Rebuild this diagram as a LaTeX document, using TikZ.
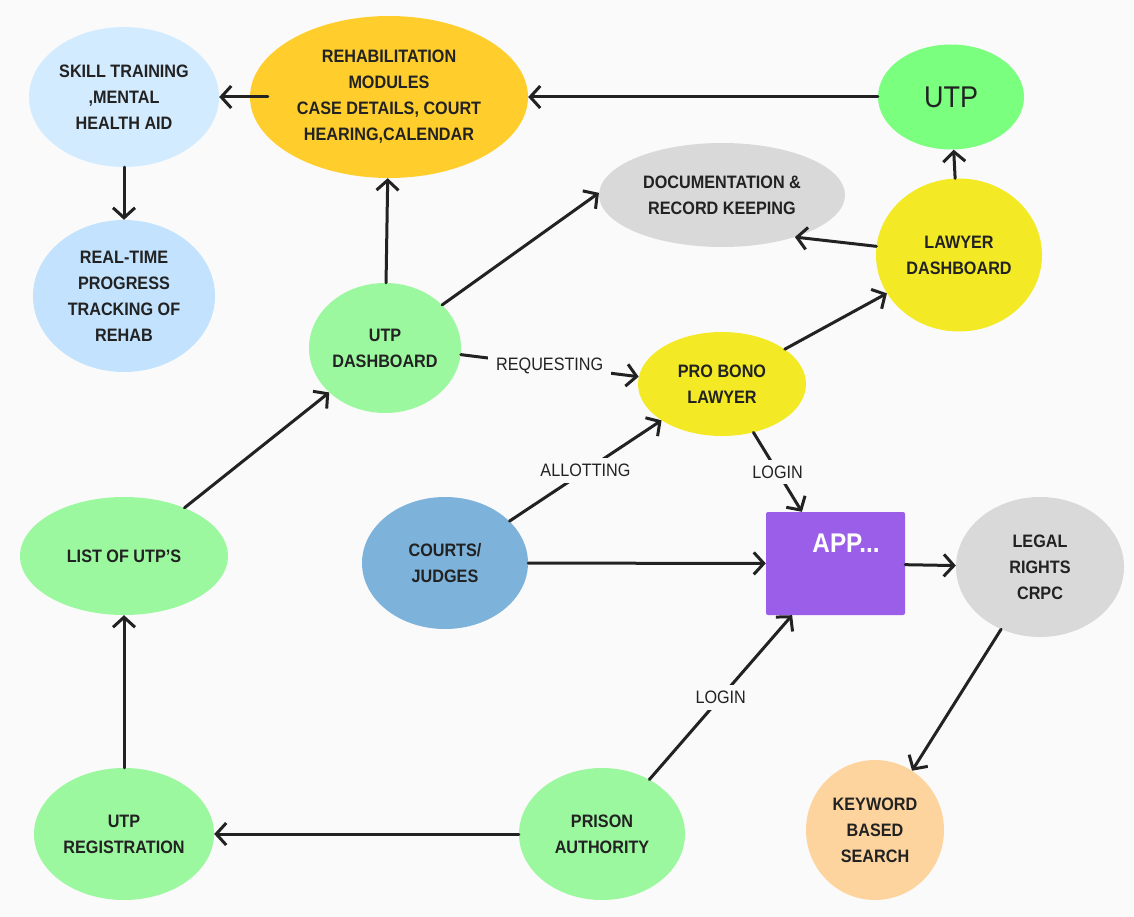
\documentclass[tikz,border=0pt]{standalone}
\usepackage{fontspec}
\setmainfont{Liberation Sans}[FakeStretch=0.9]
\usetikzlibrary{shapes.geometric, arrows.meta}

\definecolor{paper}{HTML}{FAFAFA}
\definecolor{ink}{HTML}{222222}
\definecolor{skyblue}{HTML}{D3EBFE}
\definecolor{paleblue}{HTML}{C2E2FE}
\definecolor{amber}{HTML}{FFCE2D}
\definecolor{neongreen}{HTML}{7AFF7F}
\definecolor{mint}{HTML}{9CF89F}
\definecolor{silver}{HTML}{D9D9D9}
\definecolor{lemon}{HTML}{F3EA25}
\definecolor{steel}{HTML}{7DB3DB}
\definecolor{violet}{HTML}{9B5EE9}
\definecolor{peach}{HTML}{FDD49E}

\begin{document}
\begin{tikzpicture}[
        x=1pt, y=-1pt,
        every node/.style={font=\bfseries\fontsize{18}{26}\selectfont, text=ink, align=center, inner sep=0pt},
        bubble/.style={ellipse},
        link/.style={draw=ink, line width=3pt, line cap=round, line join=round,
            -{Straight Barb[length=10pt, width=22pt]}},
        tag/.style={font=\fontsize{18}{22}\selectfont, fill=paper, inner xsep=8pt, inner ysep=6pt},
    ]
        \fill[paper] (0,0) rectangle (1134,917);
        \useasboundingbox (0,0) rectangle (1134,917);

        % top row
        \node[bubble, fill=skyblue, minimum width=190pt, minimum height=140pt] (skill) at (124,97) {SKILL TRAINING\\,MENTAL\\HEALTH AID};
        \node[bubble, fill=amber, minimum width=278pt, minimum height=162pt] (rehab) at (389,97) {REHABILITATION\\MODULES\\CASE DETAILS, COURT\\HEARING,CALENDAR};
        \node[bubble, fill=neongreen, minimum width=146pt, minimum height=105pt,
            font=\fontsize{30}{34}\selectfont] (utp) at (951,97) {UTP};
        \node[bubble, fill=silver, minimum width=246pt, minimum height=104pt] (docs) at (722,195) {DOCUMENTATION \&\\RECORD KEEPING};
        \node[bubble, fill=lemon, minimum width=166pt, minimum height=153pt] (lawyer) at (959,255) {LAWYER\\DASHBOARD};

        % middle
        \node[bubble, fill=paleblue, minimum width=182pt, minimum height=152pt] (progress) at (124,296) {REAL-TIME\\PROGRESS\\TRACKING OF\\REHAB};
        \node[bubble, fill=mint, minimum width=152pt, minimum height=130pt] (dash) at (385,348) {UTP\\DASHBOARD};
        \node[bubble, fill=lemon, minimum width=168pt, minimum height=104pt] (probono) at (722,384) {PRO BONO\\LAWYER};
        \node[bubble, fill=mint, minimum width=208pt, minimum height=118pt] (list) at (124,556) {LIST OF UTP'S};
        \node[bubble, fill=steel, minimum width=166pt, minimum height=132pt] (courts) at (445,563) {COURTS/\\JUDGES};
        \node[rectangle, fill=violet, rounded corners=2pt, minimum width=139pt, minimum height=103pt,
            label={[font=\bfseries\fontsize{27}{30}\selectfont, text=white, xshift=10.5pt, yshift=20.5pt]center:APP...}] (app) at (835.5,563.5) {};
        \node[bubble, fill=silver, minimum width=168pt, minimum height=140pt] (rights) at (1040,567) {LEGAL\\RIGHTS\\CRPC};

        % bottom row
        \node[bubble, fill=peach, minimum width=138pt, minimum height=140pt] (keyword) at (875,830) {KEYWORD\\BASED\\SEARCH};
        \node[bubble, fill=mint, minimum width=180pt, minimum height=132pt] (reg) at (124,834) {UTP\\REGISTRATION};
        \node[bubble, fill=mint, minimum width=166pt, minimum height=132pt] (prison) at (602,834) {PRISON\\AUTHORITY};

        \draw[link, shorten <=-18pt] (rehab) -- (skill);
        \draw[link] (utp) -- (rehab);
        \draw[link] (skill) -- (progress);
        \draw[link] (dash) -- (rehab);
        \draw[link] (dash.37) -- (docs.179);
        \draw[link] (lawyer.174) -- (docs.-30);
        \draw[link] (lawyer) -- (utp);
        \draw[link] (probono.29) -- (lawyer.208);
        \draw[link] (dash.-5) -- node[tag] {REQUESTING} (probono.175);
        \draw[link] (courts.33) -- node[tag] {ALLOTTING} (probono.211);
        \draw[link] (probono.-57) -- node[tag] {LOGIN} (app.123);
        \draw[link] (courts) -- (app);
        \draw[link] (prison.49) -- node[tag] {LOGIN} (app.230);
        \draw[link] (app) -- (rights);
        \draw[link] (rights.238) -- (keyword.58);
        \draw[link] (prison) -- (reg);
        \draw[link] (reg) -- (list);
        \draw[link] (list) -- (dash);
    \end{tikzpicture}
\end{document}
